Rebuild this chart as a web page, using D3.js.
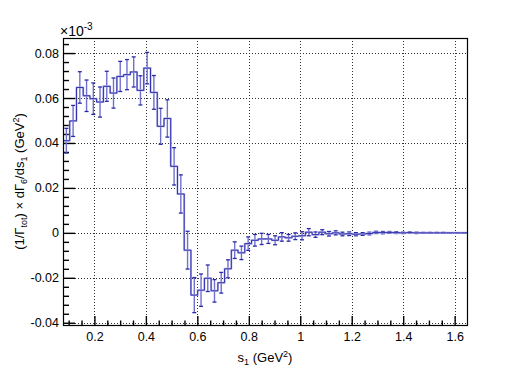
<!DOCTYPE html>
<html>
<head>
<meta charset="utf-8">
<script src="https://cdn.jsdelivr.net/npm/d3@7"></script>
<style>
  body { margin: 0; background: #fff; }
  svg { display: block; font-family: "Liberation Sans", Arial, sans-serif; }
</style>
</head>
<body>
<svg id="graph" width="519" height="389"></svg>
<script>
// histogram binning
var xLow = 0.0779;
var xHigh = 1.648;
var nBins = 60;

// bin contents (units of 1e-3)
var binValues = [
  0.041, 0.0498, 0.0647, 0.061, 0.0597, 0.0582, 0.0652, 0.0622, 0.0696, 0.0704,
  0.0716, 0.0634, 0.0733, 0.0625, 0.0474, 0.0509, 0.0296, 0.0173, -0.0077, -0.0277,
  -0.0255, -0.0202, -0.0258, -0.0222, -0.016, -0.0077, -0.0089, -0.0048, -0.0033, -0.0027,
  -0.0027, -0.0033, -0.0018, -0.0022, -0.0015, -0.0013, 0.0003, -0.0008, 0.0003, -0.0004,
  0.0, -0.0005, -0.0004, -0.0006, -0.0005, -0.0003, 0.0002, 0.0001, 0.0002, 0.0001,
  0.0, 0.0001, 0.0, 0.0, 0.0, 0.0, 0.0, 0.0, 0.0, 0.0
];
var binErrors = [
  0.0055, 0.0069, 0.007, 0.007, 0.007, 0.0067, 0.0067, 0.0067, 0.0067, 0.0067,
  0.0067, 0.0065, 0.007, 0.0075, 0.008, 0.0083, 0.0083, 0.0085, 0.0084, 0.0078,
  0.0072, 0.0059, 0.005, 0.0046, 0.004, 0.0037, 0.003, 0.003, 0.0026, 0.0025,
  0.002, 0.002, 0.0019, 0.0015, 0.0015, 0.0018, 0.0016, 0.0012, 0.0011, 0.001,
  0.0009, 0.0008, 0.0008, 0.0007, 0.0006, 0.0006, 0.0005, 0.0005, 0.0004, 0.0004,
  0.0003, 0.0003, 0.0003, 0.0002, 0.0002, 0.0002, 0.0002, 0.0001, 0.0001, 0.0001
];

var xTicks = [0.2, 0.4, 0.6, 0.8, 1.0, 1.2, 1.4, 1.6];
var xTickLabels = ["0.2", "0.4", "0.6", "0.8", "1", "1.2", "1.4", "1.6"];
var yTicks = [-0.04, -0.02, 0, 0.02, 0.04, 0.06, 0.08];
var yTickLabels = ["-0.04", "-0.02", "0", "0.02", "0.04", "0.06", "0.08"];

var binWidth = (xHigh - xLow) / nBins;
var bins = binValues.map(function (v, i) {
  return { lo: xLow + i * binWidth, hi: xLow + (i + 1) * binWidth, v: v, e: binErrors[i] };
});

var padL = 63, padR = 467, padT = 38, padB = 325;
var svg = d3.select("#graph");

var xScale = d3.scaleLinear().domain([xLow, xHigh]).range([padL, padR]);
var yScale = d3.scaleLinear().domain([-0.041, 0.0867]).range([padB, padT]);

// grid
var grid = svg.append("g")
  .attr("stroke", "#333")
  .attr("stroke-width", 1)
  .attr("stroke-dasharray", "1,2");
grid.selectAll(".gx").data(xTicks).enter().append("line")
  .attr("x1", function (d) { return Math.round(xScale(d)) + 0.5; })
  .attr("x2", function (d) { return Math.round(xScale(d)) + 0.5; })
  .attr("y1", padT).attr("y2", padB);
grid.selectAll(".gy").data(yTicks).enter().append("line")
  .attr("y1", function (d) { return Math.round(yScale(d)) + 0.5; })
  .attr("y2", function (d) { return Math.round(yScale(d)) + 0.5; })
  .attr("x1", padL).attr("x2", padR);

// axes: ticks point into the frame
var xMinor = d3.range(0.1, 1.649, 0.05).filter(function (d) {
  return Math.abs(d / 0.2 - Math.round(d / 0.2)) > 0.01;
});
var yMinor = d3.range(-0.04, 0.0868, 0.004).filter(function (d) {
  return Math.abs(d / 0.02 - Math.round(d / 0.02)) > 0.01;
});

var xAxis = svg.append("g").attr("transform", "translate(0," + padB + ")")
  .call(d3.axisBottom(xScale).tickValues(xTicks).tickSize(-9).tickPadding(5)
    .tickFormat(function (d, i) { return xTickLabels[i]; }));
svg.append("g").attr("transform", "translate(0," + padB + ")")
  .call(d3.axisBottom(xScale).tickValues(xMinor).tickSize(-4.5).tickFormat(""));

var yAxis = svg.append("g").attr("transform", "translate(" + padL + ",0)")
  .call(d3.axisLeft(yScale).tickValues(yTicks).tickSize(-12).tickPadding(4)
    .tickFormat(function (d, i) { return yTickLabels[i]; }));
svg.append("g").attr("transform", "translate(" + padL + ",0)")
  .call(d3.axisLeft(yScale).tickValues(yMinor).tickSize(-6).tickFormat(""));

svg.selectAll(".domain").remove();
svg.selectAll(".tick line").attr("stroke", "#000").attr("stroke-width", 1.4);
svg.selectAll(".tick text").attr("font-size", 12.5).attr("fill", "#000")
  .attr("font-family", "Liberation Sans, Arial, sans-serif");
xAxis.selectAll(".tick text").attr("dy", "0.9em");

// error bars
var eb = svg.append("g");
eb.selectAll(".err").data(bins).enter().append("line")
  .attr("x1", function (d) { return xScale((d.lo + d.hi) / 2); })
  .attr("x2", function (d) { return xScale((d.lo + d.hi) / 2); })
  .attr("y1", function (d) { return yScale(d.v + d.e); })
  .attr("y2", function (d) { return yScale(d.v - d.e); })
  .attr("stroke", "#7070cf").attr("stroke-width", 1.4);
["top", "bot"].forEach(function (side) {
  eb.selectAll(".cap-" + side).data(bins).enter().append("line")
    .attr("x1", function (d) { return xScale((d.lo + d.hi) / 2) - 2; })
    .attr("x2", function (d) { return xScale((d.lo + d.hi) / 2) + 2; })
    .attr("y1", function (d) { return yScale(side === "top" ? d.v + d.e : d.v - d.e); })
    .attr("y2", function (d) { return yScale(side === "top" ? d.v + d.e : d.v - d.e); })
    .attr("stroke", "#2a2aa8").attr("stroke-width", 1.3);
});

// step histogram
var pts = [];
bins.forEach(function (d) {
  pts.push([d.lo, d.v]);
  pts.push([d.hi, d.v]);
});
var stepLine = d3.line()
  .x(function (p) { return xScale(p[0]); })
  .y(function (p) { return yScale(p[1]); });
svg.append("path").datum(pts)
  .attr("d", stepLine)
  .attr("fill", "none")
  .attr("stroke", "#b8b8ea")
  .attr("stroke-width", 2);
svg.append("path").datum(pts)
  .attr("d", stepLine)
  .attr("fill", "none")
  .attr("stroke", "#2c2cad")
  .attr("stroke-width", 1);

// frame
svg.append("rect")
  .attr("x", padL + 0.5).attr("y", padT + 0.5)
  .attr("width", padR - padL).attr("height", padB - padT)
  .attr("fill", "none").attr("stroke", "#000").attr("stroke-width", 1.2);

// exponent label
var expo = svg.append("text").attr("x", 60).attr("y", 36).attr("font-size", 14);
expo.append("tspan").text("×10");
expo.append("tspan").attr("font-size", 10).attr("dy", -6).text("-3");

// axis titles
var xt = svg.append("text")
  .attr("x", (padL + padR) / 2).attr("y", 362)
  .attr("text-anchor", "middle").attr("font-size", 13);
xt.append("tspan").text("s");
xt.append("tspan").attr("font-size", 9).attr("dy", 3).text("1");
xt.append("tspan").attr("dy", -3).text(" (GeV");
xt.append("tspan").attr("font-size", 9).attr("dy", -5).text("2");
xt.append("tspan").attr("dy", 5).text(")");

var yt = svg.append("text")
  .attr("transform", "translate(24," + (padT + padB) / 2 + ") rotate(-90)")
  .attr("text-anchor", "middle").attr("font-size", 13);
yt.append("tspan").text("(1/Γ");
yt.append("tspan").attr("font-size", 9).attr("dy", 3).text("tot");
yt.append("tspan").attr("dy", -3).text(") × dΓ");
yt.append("tspan").attr("font-size", 9).attr("dy", 3).text("6");
yt.append("tspan").attr("dy", -3).text("/ds");
yt.append("tspan").attr("font-size", 9).attr("dy", 3).text("1");
yt.append("tspan").attr("dy", -3).text(" (GeV");
yt.append("tspan").attr("font-size", 9).attr("dy", -5).text("2");
yt.append("tspan").attr("dy", 5).text(")");
</script>
</body>
</html>
